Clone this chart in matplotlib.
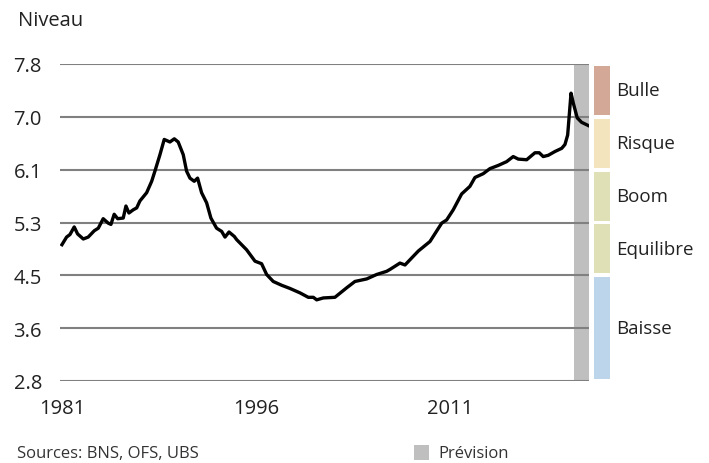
import matplotlib.pyplot as plt
import matplotlib.patches as mpatches

plt.rcParams['font.family'] = ['Open Sans', 'DejaVu Sans']

# index level
years = [1981.0, 1981.36, 1981.62, 1981.95, 1982.21, 1982.65, 1983.03, 1983.5, 1983.81,
         1984.19, 1984.58, 1984.79, 1985.04, 1985.31, 1985.74, 1985.95, 1986.18, 1986.51,
         1986.78, 1987.03, 1987.55, 1987.94, 1988.19, 1988.58, 1988.91, 1989.35, 1989.69,
         1989.99, 1990.38, 1990.64, 1990.9, 1991.23, 1991.49, 1991.8, 1992.19, 1992.52,
         1992.96, 1993.35, 1993.61, 1993.92, 1994.33, 1994.51, 1995.28, 1995.93, 1996.44,
         1996.83, 1997.34, 1997.99, 1998.63, 1999.41, 2000.05, 2000.44, 2000.7, 2001.21,
         2002.11, 2003.02, 2003.66, 2004.57, 2005.34, 2006.11, 2006.37, 2007.14, 2007.53,
         2008.56, 2009.46, 2010.37, 2010.75, 2011.26, 2011.91, 2012.55, 2012.94, 2013.58,
         2014.1, 2014.74, 2015.39, 2015.9, 2016.29, 2016.94, 2017.58, 2017.91, 2018.22,
         2018.61, 2019.13, 2019.65, 2019.9, 2020.11, 2020.37, 2020.55, 2020.85, 2021.19,
         2021.7]
niveau = [4.95, 5.07, 5.11, 5.23, 5.12, 5.04, 5.07, 5.17, 5.21,
          5.36, 5.29, 5.27, 5.43, 5.36, 5.37, 5.56, 5.45, 5.50,
          5.53, 5.64, 5.77, 5.95, 6.11, 6.37, 6.61, 6.57, 6.62,
          6.57, 6.37, 6.11, 6.00, 5.95, 6.00, 5.77, 5.61, 5.37,
          5.21, 5.16, 5.07, 5.15, 5.08, 5.03, 4.87, 4.69, 4.65,
          4.48, 4.37, 4.31, 4.26, 4.19, 4.12, 4.12, 4.08, 4.11,
          4.12, 4.27, 4.37, 4.41, 4.48, 4.53, 4.56, 4.66, 4.63,
          4.85, 5.00, 5.29, 5.34, 5.50, 5.75, 5.87, 6.01, 6.07,
          6.15, 6.20, 6.26, 6.34, 6.30, 6.29, 6.40, 6.40, 6.34,
          6.36, 6.42, 6.47, 6.53, 6.68, 7.34, 7.18, 6.95, 6.88,
          6.83]

forecast_start = 2020.6
x_ticks = [1981, 1996, 2011]
y_ticks = [2.8, 2.8 + 5 / 6, 2.8 + 10 / 6, 5.3, 2.8 + 20 / 6, 2.8 + 25 / 6, 7.8]
y_labels = ['2.8', '3.6', '4.5', '5.3', '6.1', '7.0', '7.8']

zones = ['Baisse', 'Equilibre', 'Boom', 'Risque', 'Bulle']
zone_lo = [2.8, y_ticks[2], y_ticks[3], y_ticks[4], y_ticks[5]]
zone_hi = [y_ticks[2], y_ticks[3], y_ticks[4], y_ticks[5], 7.8]
zone_colors = ['#bdd5ea', '#dfe0b6', '#dfe0b6', '#f4e4bd', '#d4a896']

fig = plt.figure(figsize=(7.09, 4.64), dpi=100)
ax = fig.add_axes([60 / 709, 1 - 382 / 464, 529 / 709, 317 / 464])

ax.axvspan(forecast_start, 2021.76, color='#bfbfbf', lw=0, zorder=1)
for t in y_ticks:
    ax.axhline(t, color='#808080', lw=1.5, zorder=2)
ax.plot(years, niveau, color='black', lw=2.4, zorder=3, solid_joinstyle='round')

ax.set_xlim(1980.85, 2021.76)
ax.set_ylim(2.8, 7.8)
ax.set_xticks(x_ticks)
ax.set_xticklabels([str(x) for x in x_ticks])
ax.set_yticks(y_ticks)
ax.set_yticklabels(y_labels)
ax.tick_params(length=0, labelsize=14.5, colors='#222222')
ax.tick_params(axis='y', pad=13)
ax.tick_params(axis='x', pad=12)
for s in ax.spines.values():
    s.set_visible(False)

# zone bar on the right
bx = fig.add_axes([594 / 709, 1 - 382 / 464, 16 / 709, 317 / 464])
for lo, hi, c, name in zip(zone_lo, zone_hi, zone_colors, zones):
    bx.bar(0, hi - lo - 0.06, bottom=lo + 0.03, width=1, color=c, lw=0)
    bx.text(0.9, (lo + hi) / 2, name, fontsize=13.5, va='center', ha='left', color='#222222')
bx.set_xlim(-0.5, 0.5)
bx.set_ylim(2.8, 7.8)
bx.axis('off')

fig.text(18 / 709, 1 - 21 / 464, 'Niveau', fontsize=14.5, va='center', ha='left', color='#222222')
fig.text(17 / 709, 1 - 454 / 464, 'Sources: BNS, OFS, UBS', fontsize=12, va='center', ha='left',
         color='#333333')
fig.patches.append(mpatches.Rectangle((414 / 709, 1 - 461 / 464), 15 / 709, 15 / 464,
                                      transform=fig.transFigure, color='#bfbfbf', lw=0))
fig.text(438 / 709, 1 - 454 / 464, 'Prévision', fontsize=12, va='center', ha='left', color='#333333')

fig.savefig('out.png', dpi=100)
